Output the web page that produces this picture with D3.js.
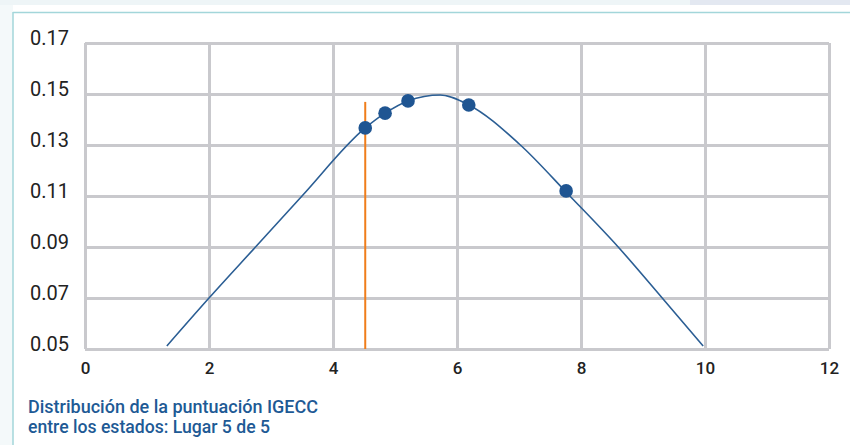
<!DOCTYPE html>
<html>
<head>
<meta charset="utf-8">
<script src="https://cdn.jsdelivr.net/npm/d3@7"></script>
<style>
  body { margin: 0; background: #fff; }
  svg { display: block; font-family: Roboto, "Noto Sans", sans-serif; }
</style>
</head>
<body>
<svg id="chart" width="850" height="445"></svg>
<script>
// values
const xTicks = [0, 2, 4, 6, 8, 10, 12];
const yTicks = [0.05, 0.07, 0.09, 0.11, 0.13, 0.15, 0.17];
const yTickLabels = ["0.05", "0.07", "0.09", "0.11", "0.13", "0.15", "0.17"];

// distribution curve (score, density)
const curveX = [1.32, 2.0, 2.75, 3.5, 4.52, 4.84, 5.21, 5.73, 6.19, 7.0, 7.82, 8.6, 9.31, 9.97];
const curveY = [0.0512, 0.07, 0.09, 0.11, 0.1367, 0.1425, 0.1473, 0.1496, 0.1457, 0.1305, 0.11, 0.09, 0.07, 0.0512];

// states (dots)
const stateX = [4.52, 4.84, 5.21, 6.19, 7.76];
const stateY = [0.1367, 0.1425, 0.1473, 0.1457, 0.112];

// marker for current state
const markerX = 4.52;
const markerTop = 0.1469;

const caption = ["Distribución de la puntuación IGECC", "entre los estados: Lugar 5 de 5"];

const svg = d3.select("#chart");

// page frame
svg.append("rect").attr("x", 0).attr("y", 0).attr("width", 850).attr("height", 445).attr("fill", "#fff");
svg.append("rect").attr("x", 0).attr("y", 0).attr("width", 850).attr("height", 5).attr("fill", "#eef5f7");
svg.append("rect").attr("x", 690).attr("y", 0).attr("width", 160).attr("height", 5).attr("fill", "#e3e8f1");
svg.append("rect").attr("x", 0).attr("y", 5).attr("width", 13).attr("height", 440).attr("fill", "#f4f9fa");
svg.append("line").attr("x1", 13).attr("x2", 850).attr("y1", 12.5).attr("y2", 12.5)
  .attr("stroke", "#a3d6da").attr("stroke-width", 1.5);
svg.append("line").attr("x1", 13).attr("x2", 13).attr("y1", 12).attr("y2", 445)
  .attr("stroke", "#a3d6da").attr("stroke-width", 1.5);

const x = d3.scaleLinear().domain([0, 12]).range([85, 829]);
const y = d3.scaleLinear().domain([0.05, 0.17]).range([349, 43]);

const gridColor = "#c9c9cd";

// y grid + labels
const yAxis = svg.append("g")
  .attr("transform", "translate(85,0)")
  .call(d3.axisLeft(y).tickValues(yTicks).tickFormat((d, i) => yTickLabels[i]).tickSize(-(829 - 85)));
yAxis.select(".domain").remove();
yAxis.selectAll(".tick line").attr("stroke", gridColor).attr("stroke-width", 3);
yAxis.selectAll(".tick text")
  .attr("x", -55).attr("dy", "0.05em").attr("text-anchor", "start")
  .attr("font-size", 20).attr("fill", "#222").attr("font-family", "Roboto, sans-serif");

// x grid + labels
const xAxis = svg.append("g")
  .attr("transform", "translate(0,349)")
  .call(d3.axisBottom(x).tickValues(xTicks).tickFormat(d3.format("d")).tickSize(-(349 - 43)));
xAxis.select(".domain").remove();
xAxis.selectAll(".tick line").attr("stroke", gridColor).attr("stroke-width", 3);
xAxis.selectAll(".tick text")
  .attr("y", 25).attr("dy", 0)
  .attr("font-size", 17).attr("font-weight", 500).attr("fill", "#222")
  .attr("font-family", "Roboto, sans-serif");

// curve
const pts = curveX.map((v, i) => [v, curveY[i]]);
const line = d3.line().x(d => x(d[0])).y(d => y(d[1])).curve(d3.curveMonotoneX);
svg.append("path").datum(pts).attr("d", line)
  .attr("fill", "none").attr("stroke", "#2b5e94").attr("stroke-width", 1.6);

// orange marker
svg.append("line")
  .attr("x1", x(markerX)).attr("x2", x(markerX))
  .attr("y1", y(markerTop)).attr("y2", y(0.05))
  .attr("stroke", "#f07d1a").attr("stroke-width", 2);

// dots
svg.append("g").selectAll("circle")
  .data(stateX.map((v, i) => [v, stateY[i]]))
  .join("circle")
  .attr("cx", d => x(d[0])).attr("cy", d => y(d[1]))
  .attr("r", 6.8).attr("fill", "#1f5592");

// caption
svg.append("g").selectAll("text")
  .data(caption)
  .join("text")
  .attr("x", 28).attr("y", (d, i) => 413 + i * 20)
  .attr("font-size", 18).attr("font-weight", 500).attr("fill", "#1e5a95")
  .attr("textLength", (d, i) => i === 0 ? 290 : 242)
  .attr("lengthAdjust", "spacingAndGlyphs")
  .text(d => d);
</script>
</body>
</html>
